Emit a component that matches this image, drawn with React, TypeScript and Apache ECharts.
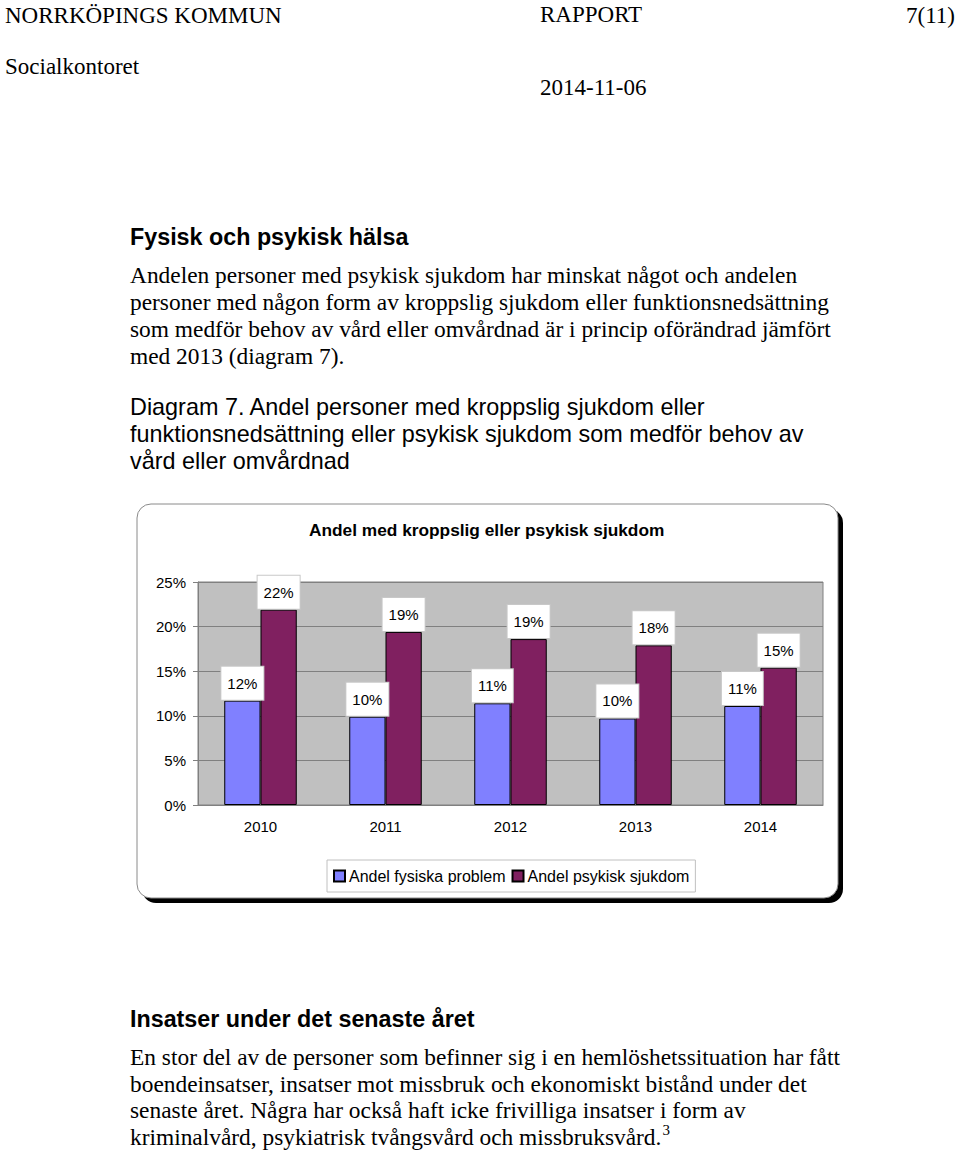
import React, { useEffect, useRef } from "react";
import * as echarts from "echarts";

const years = ["2010", "2011", "2012", "2013", "2014"];
const physical = [11.7, 9.9, 11.4, 9.7, 11.1];
const mental = [21.9, 19.4, 18.6, 17.9, 15.4];
const seriesNames = ["Andel fysiska problem", "Andel psykisk sjukdom"];
const chartTitle = "Andel med kroppslig eller psykisk sjukdom";

const headerLines = [
  { text: "NORRKÖPINGS KOMMUN", x: 5, y: 15, align: "left" },
  { text: "RAPPORT", x: 540, y: 14, align: "left" },
  { text: "7(11)", x: 955, y: 15, align: "right" },
  { text: "Socialkontoret", x: 5, y: 66, align: "left" },
  { text: "2014-11-06", x: 540, y: 87, align: "left" },
];
const para1 = [
  "Andelen personer med psykisk sjukdom har minskat något och andelen",
  "personer med någon form av kroppslig sjukdom eller funktionsnedsättning",
  "som medför behov av vård eller omvårdnad är i princip oförändrad jämfört",
  "med 2013 (diagram 7).",
];
const caption = [
  "Diagram 7. Andel personer med kroppslig sjukdom eller",
  "funktionsnedsättning eller psykisk sjukdom som medför behov av",
  "vård eller omvårdnad",
];
const para2 = [
  "En stor del av de personer som befinner sig i en hemlöshetssituation har fått",
  "boendeinsatser, insatser mot missbruk och ekonomiskt bistånd under det",
  "senaste året. Några har också haft icke frivilliga insatser i form av",
  "kriminalvård, psykiatrisk tvångsvård och missbruksvård.{sup|3}",
];

const SERIF = "'Liberation Serif', 'Times New Roman', serif";
const SANS = "'Liberation Sans', Arial, sans-serif";

function txt(text: string, x: number, y: number, font: string, align = "left", extra: any = {}) {
  return {
    type: "text",
    x,
    y,
    style: { text, font, fill: "#000", align, verticalAlign: "middle", ...extra },
  };
}

export default function App() {
  const ref = useRef<HTMLDivElement>(null);
  useEffect(() => {
    if (!ref.current) return;
    const chart = echarts.init(ref.current, null, { renderer: "svg" });
    const graphics: any[] = [];
    headerLines.forEach((h) =>
      graphics.push(txt(h.text, h.x, h.y, `23px ${SERIF}`, h.align))
    );
    graphics.push(txt("Fysisk och psykisk hälsa", 130, 237, `bold 23.3px ${SANS}`));
    para1.forEach((l, i) => graphics.push(txt(l, 130, 275 + i * 27, `23.4px ${SERIF}`)));
    caption.forEach((l, i) => graphics.push(txt(l, 130, 407 + i * 27, `23.4px ${SANS}`)));
    graphics.push(txt("Insatser under det senaste året", 130, 1019, `bold 23.3px ${SANS}`));
    para2.forEach((l, i) =>
      graphics.push(
        txt(l, 130, 1057 + i * 26.7, `23.4px ${SERIF}`, "left", {
          lineHeight: 30,
          rich: {
            sup: {
              fontSize: 15,
              fontFamily: SERIF,
              verticalAlign: "top",
              lineHeight: 15,
              fill: "#000",
              padding: [0, 0, 0, 1],
            },
          },
        })
      )
    );
    // chart frame
    graphics.push({
      type: "rect",
      z: -10,
      shape: { x: 142, y: 509, width: 701, height: 394, r: 14 },
      style: { fill: "#000" },
    });
    graphics.push({
      type: "rect",
      z: -9,
      shape: { x: 137, y: 504, width: 701, height: 394, r: 14 },
      style: { fill: "#fff", stroke: "#8a8a8a", lineWidth: 1 },
    });

    const labelStyle = {
      show: true,
      position: "top",
      distance: 1,
      formatter: (p: any) => Math.round(p.value) + "%",
      backgroundColor: "#fff",
      borderColor: "#c8c8c8",
      borderWidth: 1,
      padding: [9, 6, 9, 6],
      color: "#000",
      fontFamily: SANS,
      fontSize: 15,
    };

    chart.setOption({
      animation: false,
      title: {
        text: chartTitle,
        left: 304,
        top: 516,
        textStyle: { fontFamily: SANS, fontSize: 17.3, fontWeight: "bold", color: "#000" },
      },
      graphic: graphics,
      legend: {
        left: 327,
        top: 860,
        data: seriesNames,
        icon: "rect",
        itemWidth: 11,
        itemHeight: 11,
        itemGap: 6,
        padding: [8, 6, 8, 6],
        backgroundColor: "#fff",
        borderColor: "#c0c0c0",
        borderWidth: 1,
        textStyle: { fontFamily: SANS, fontSize: 16, color: "#000", padding: [0, 0, 0, -1] },
      },
      grid: {
        left: 198,
        top: 582,
        width: 625,
        height: 223,
        show: true,
        backgroundColor: "#c0c0c0",
        borderColor: "#808080",
        borderWidth: 1,
      },
      xAxis: {
        type: "category",
        data: years,
        axisLine: { lineStyle: { color: "#808080" } },
        axisTick: { length: 5, lineStyle: { color: "#808080" } },
        axisLabel: { fontFamily: SANS, fontSize: 15, color: "#000", margin: 14 },
      },
      yAxis: {
        type: "value",
        min: 0,
        max: 25,
        interval: 5,
        axisLine: { show: true, lineStyle: { color: "#808080" } },
        axisTick: { show: true, length: 5, lineStyle: { color: "#808080" } },
        splitLine: { lineStyle: { color: "#808080" } },
        axisLabel: {
          formatter: "{value}%",
          fontFamily: SANS,
          fontSize: 15,
          color: "#000",
          margin: 12,
        },
      },
      series: [
        {
          name: seriesNames[0],
          type: "bar",
          data: physical,
          barGap: "0%",
          barCategoryGap: "42%",
          itemStyle: { color: "#8080ff", borderColor: "#000", borderWidth: 1 },
          label: labelStyle,
        },
        {
          name: seriesNames[1],
          type: "bar",
          data: mental,
          itemStyle: { color: "#802060", borderColor: "#000", borderWidth: 1 },
          label: labelStyle,
        },
      ],
    });
    return () => chart.dispose();
  }, []);
  return (
    <div
      ref={ref}
      style={{ position: "absolute", left: 0, top: 0, width: 960, height: 1151 }}
    />
  );
}
